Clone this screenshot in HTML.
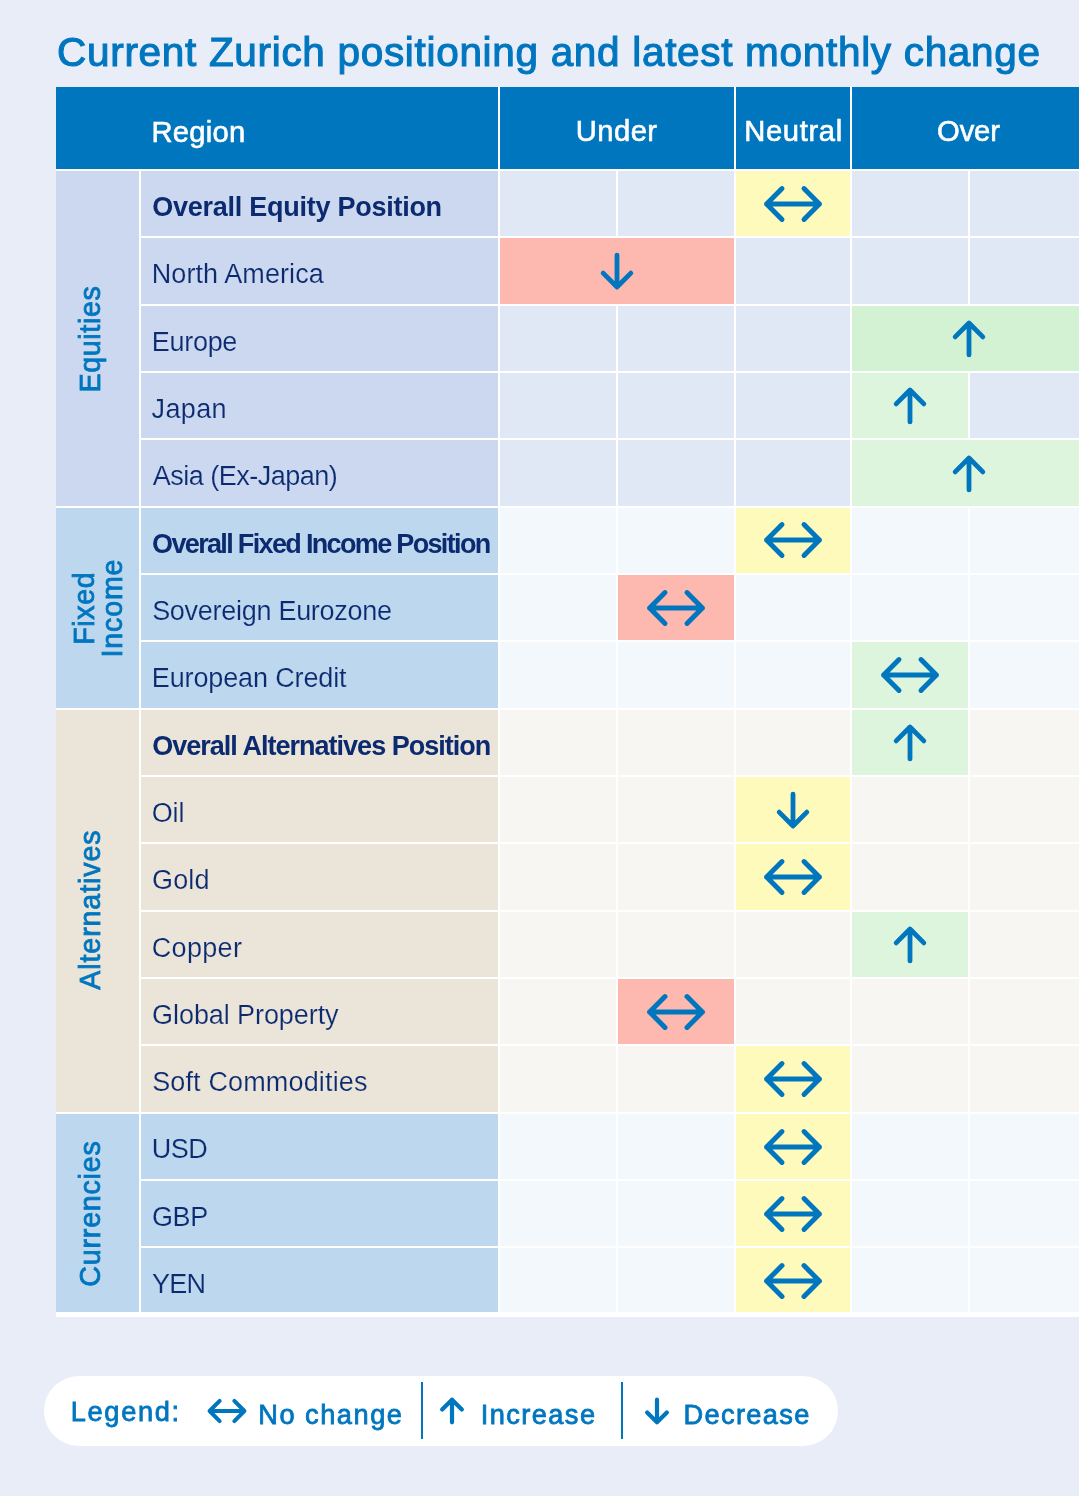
<!DOCTYPE html>
<html lang="en">
<head>
<meta charset="utf-8">
<title>Current Zurich positioning and latest monthly change</title>
<style>
html,body{margin:0;padding:0}
body{width:1079px;height:1496px;overflow:hidden;background:#E9EDF8;font-family:"Liberation Sans",Arial,Helvetica,sans-serif}
#page{position:relative;width:1079px;height:1496px;overflow:hidden;background:#E9EDF8;filter:blur(.35px)}
.b,.t,.ic,.r{position:absolute;display:block;margin:0;padding:0}
.t,.r{white-space:nowrap;line-height:1;font-weight:400;z-index:2}
.t{color:#0B2A6F;font-size:27px}
.r{color:#0076BF;font-size:28.6px;transform-origin:0 0;transform:rotate(-90deg);-webkit-text-stroke:0.8px #0076BF}
.title{color:#0076BF;font-size:40.5px;-webkit-text-stroke:1.1px #0076BF}
.th{color:#fff;font-size:29.2px;-webkit-text-stroke:0.6px #fff}
.bold{font-weight:700}
.lg{color:#0076BF;font-size:27.2px;-webkit-text-stroke:0.8px #0076BF}
.table{background:#fff}
.hd{background:#0076BF}
.ic{overflow:visible;z-index:2}
.ic path{fill:none;stroke:#0076BF;stroke-linecap:round;stroke-linejoin:round}
.legend{background:#fff;border-radius:35px}
.sep{background:#0076BF}
.yel{background:#FEFABC}
.red{background:#FDB8B0}
.gr1{background:#DCF5DC}
.gr2{background:#D3F2D3}
.eq-l{background:#CBD8EF}
.eq-d{background:#E1E8F5}
.eq-t{-webkit-text-stroke:0.2px #CBD8EF}
.fi-l{background:#BDD7EE}
.fi-d{background:#F3F8FC}
.fi-t{-webkit-text-stroke:0.2px #BDD7EE}
.al-l{background:#EAE4D9}
.al-d{background:#F7F6F3}
.al-t{-webkit-text-stroke:0.2px #EAE4D9}
.cu-l{background:#BDD7EE}
.cu-d{background:#F3F8FC}
.cu-t{-webkit-text-stroke:0.2px #BDD7EE}
</style>
</head>
<body>
<div id="page">
<span id="title" class="t title" style="left:57.07px;top:32px;letter-spacing:0.69px">Current Zurich positioning and latest monthly change</span>
<div class="b table" style="left:56px;top:87px;width:1023px;height:1230px">
<!-- header -->
<div class="b hd" style="left:0px;top:0px;width:442px;height:82px"><span id="h_region" class="t th" style="left:95.44px;top:31px;letter-spacing:0.24px">Region</span></div>
<div class="b hd" style="left:444px;top:0px;width:234px;height:82px"><span id="h_under" class="t th" style="left:75.68px;top:30px;letter-spacing:0.47px">Under</span></div>
<div class="b hd" style="left:680px;top:0px;width:114px;height:82px"><span id="h_neutral" class="t th" style="left:8.23px;top:30px;letter-spacing:0.65px">Neutral</span></div>
<div class="b hd" style="left:796px;top:0px;width:227px;height:82px"><span id="h_over" class="t th" style="left:85.06px;top:30px;letter-spacing:-0.11px">Over</span></div>
<!-- Equities -->
<div class="b cat eq-l" style="left:0px;top:84px;width:83px;height:335px"><span id="cat_eq_0" class="r" style="left:20px;top:221px;letter-spacing:0.65px;transform:translate(0.49px,0.53px) rotate(-90deg)">Equities</span></div>
<div class="b lab eq-l" style="left:85px;top:84px;width:357px;height:65px"><span id="row0" class="t bold" style="left:11.28px;top:23px;letter-spacing:-0.26px">Overall Equity Position</span></div>
<div class="b eq-d" style="left:444px;top:84px;width:116px;height:65px"></div>
<div class="b eq-d" style="left:562px;top:84px;width:116px;height:65px"></div>
<div class="b yel" style="left:680px;top:84px;width:114px;height:65px"><svg class="ic" style="left:24.9px;top:10.75px" width="64" height="44" viewBox="-32 -22 64 44" aria-hidden="true"><path d="M-26.4 0H26.4M-11 -15.4L-26.4 0L-11 15.4M11 -15.4L26.4 0L11 15.4" stroke-width="5"/></svg></div>
<div class="b eq-d" style="left:796px;top:84px;width:116px;height:65px"></div>
<div class="b eq-d" style="left:914px;top:84px;width:109px;height:65px"></div>
<div class="b lab eq-l" style="left:85px;top:151px;width:357px;height:66px"><span id="row1" class="t thin eq-t" style="left:10.77px;top:23px;letter-spacing:0.08px">North America</span></div>
<div class="b red" style="left:444px;top:151px;width:234px;height:66px"><svg class="ic" style="left:84.9px;top:11.09px" width="64" height="44" viewBox="-32 -22 64 44" aria-hidden="true"><path d="M0 -15.95V15.95M-13.85 2.1L0 15.95L13.85 2.1" stroke-width="4.8"/></svg></div>
<div class="b eq-d" style="left:680px;top:151px;width:114px;height:66px"></div>
<div class="b eq-d" style="left:796px;top:151px;width:116px;height:66px"></div>
<div class="b eq-d" style="left:914px;top:151px;width:109px;height:66px"></div>
<div class="b lab eq-l" style="left:85px;top:219px;width:357px;height:65px"><span id="row2" class="t thin eq-t" style="left:10.77px;top:23px;letter-spacing:-0.29px">Europe</span></div>
<div class="b eq-d" style="left:444px;top:219px;width:116px;height:65px"></div>
<div class="b eq-d" style="left:562px;top:219px;width:116px;height:65px"></div>
<div class="b eq-d" style="left:680px;top:219px;width:114px;height:65px"></div>
<div class="b gr2" style="left:796px;top:219px;width:227px;height:65px"><svg class="ic" style="left:84.9px;top:10.83px" width="64" height="44" viewBox="-32 -22 64 44" aria-hidden="true"><path d="M0 15.95V-15.95M-13.85 -2.1L0 -15.95L13.85 -2.1" stroke-width="4.8"/></svg></div>
<div class="b lab eq-l" style="left:85px;top:286px;width:357px;height:65px"><span id="row3" class="t thin eq-t" style="left:10.61px;top:23px;letter-spacing:0.33px">Japan</span></div>
<div class="b eq-d" style="left:444px;top:286px;width:116px;height:65px"></div>
<div class="b eq-d" style="left:562px;top:286px;width:116px;height:65px"></div>
<div class="b eq-d" style="left:680px;top:286px;width:114px;height:65px"></div>
<div class="b gr1" style="left:796px;top:286px;width:116px;height:65px"><svg class="ic" style="left:25.9px;top:11.17px" width="64" height="44" viewBox="-32 -22 64 44" aria-hidden="true"><path d="M0 15.95V-15.95M-13.85 -2.1L0 -15.95L13.85 -2.1" stroke-width="4.8"/></svg></div>
<div class="b eq-d" style="left:914px;top:286px;width:109px;height:65px"></div>
<div class="b lab eq-l" style="left:85px;top:353px;width:357px;height:66px"><span id="row4" class="t thin eq-t" style="left:11.87px;top:23px;letter-spacing:-0.51px">Asia (Ex-Japan)</span></div>
<div class="b eq-d" style="left:444px;top:353px;width:116px;height:66px"></div>
<div class="b eq-d" style="left:562px;top:353px;width:116px;height:66px"></div>
<div class="b eq-d" style="left:680px;top:353px;width:114px;height:66px"></div>
<div class="b gr1" style="left:796px;top:353px;width:227px;height:66px"><svg class="ic" style="left:84.9px;top:11.51px" width="64" height="44" viewBox="-32 -22 64 44" aria-hidden="true"><path d="M0 15.95V-15.95M-13.85 -2.1L0 -15.95L13.85 -2.1" stroke-width="4.8"/></svg></div>
<!-- Fixed Income -->
<div class="b cat fi-l" style="left:0px;top:421px;width:83px;height:200px"><span id="cat_fi_0" class="r" style="left:13px;top:136px;letter-spacing:0.6px;transform:translate(0.89px,0.71px) rotate(-90deg)">Fixed</span><span id="cat_fi_1" class="r" style="left:42px;top:149px;letter-spacing:0.83px;transform:translate(0.39px,0.42px) rotate(-90deg)">Income</span></div>
<div class="b lab fi-l" style="left:85px;top:421px;width:357px;height:65px"><span id="row5" class="t bold" style="left:11.08px;top:23px;letter-spacing:-1.66px">Overall Fixed Income Position</span></div>
<div class="b fi-d" style="left:444px;top:421px;width:116px;height:65px"></div>
<div class="b fi-d" style="left:562px;top:421px;width:116px;height:65px"></div>
<div class="b yel" style="left:680px;top:421px;width:114px;height:65px"><svg class="ic" style="left:24.9px;top:10.45px" width="64" height="44" viewBox="-32 -22 64 44" aria-hidden="true"><path d="M-26.4 0H26.4M-11 -15.4L-26.4 0L-11 15.4M11 -15.4L26.4 0L11 15.4" stroke-width="5"/></svg></div>
<div class="b fi-d" style="left:796px;top:421px;width:116px;height:65px"></div>
<div class="b fi-d" style="left:914px;top:421px;width:109px;height:65px"></div>
<div class="b lab fi-l" style="left:85px;top:488px;width:357px;height:65px"><span id="row6" class="t thin fi-t" style="left:11.14px;top:23px;letter-spacing:-0.28px">Sovereign Eurozone</span></div>
<div class="b fi-d" style="left:444px;top:488px;width:116px;height:65px"></div>
<div class="b red" style="left:562px;top:488px;width:116px;height:65px"><svg class="ic" style="left:25.9px;top:10.79px" width="64" height="44" viewBox="-32 -22 64 44" aria-hidden="true"><path d="M-26.4 0H26.4M-11 -15.4L-26.4 0L-11 15.4M11 -15.4L26.4 0L11 15.4" stroke-width="5"/></svg></div>
<div class="b fi-d" style="left:680px;top:488px;width:114px;height:65px"></div>
<div class="b fi-d" style="left:796px;top:488px;width:116px;height:65px"></div>
<div class="b fi-d" style="left:914px;top:488px;width:109px;height:65px"></div>
<div class="b lab fi-l" style="left:85px;top:555px;width:357px;height:66px"><span id="row7" class="t thin fi-t" style="left:10.77px;top:23px;letter-spacing:-0.13px">European Credit</span></div>
<div class="b fi-d" style="left:444px;top:555px;width:116px;height:66px"></div>
<div class="b fi-d" style="left:562px;top:555px;width:116px;height:66px"></div>
<div class="b fi-d" style="left:680px;top:555px;width:114px;height:66px"></div>
<div class="b gr1" style="left:796px;top:555px;width:116px;height:66px"><svg class="ic" style="left:25.9px;top:11.13px" width="64" height="44" viewBox="-32 -22 64 44" aria-hidden="true"><path d="M-26.4 0H26.4M-11 -15.4L-26.4 0L-11 15.4M11 -15.4L26.4 0L11 15.4" stroke-width="5"/></svg></div>
<div class="b fi-d" style="left:914px;top:555px;width:109px;height:66px"></div>
<!-- Alternatives -->
<div class="b cat al-l" style="left:0px;top:623px;width:83px;height:402px"><span id="cat_al_0" class="r" style="left:20px;top:279px;letter-spacing:0.89px;transform:translate(0.49px,0.67px) rotate(-90deg)">Alternatives</span></div>
<div class="b lab al-l" style="left:85px;top:623px;width:357px;height:65px"><span id="row8" class="t bold" style="left:11.16px;top:23px;letter-spacing:-0.98px">Overall Alternatives Position</span></div>
<div class="b al-d" style="left:444px;top:623px;width:116px;height:65px"></div>
<div class="b al-d" style="left:562px;top:623px;width:116px;height:65px"></div>
<div class="b al-d" style="left:680px;top:623px;width:114px;height:65px"></div>
<div class="b gr1" style="left:796px;top:623px;width:116px;height:65px"><svg class="ic" style="left:25.9px;top:10.87px" width="64" height="44" viewBox="-32 -22 64 44" aria-hidden="true"><path d="M0 15.95V-15.95M-13.85 -2.1L0 -15.95L13.85 -2.1" stroke-width="4.8"/></svg></div>
<div class="b al-d" style="left:914px;top:623px;width:109px;height:65px"></div>
<div class="b lab al-l" style="left:85px;top:690px;width:357px;height:65px"><span id="row9" class="t thin al-t" style="left:10.78px;top:23px;letter-spacing:-0.18px">Oil</span></div>
<div class="b al-d" style="left:444px;top:690px;width:116px;height:65px"></div>
<div class="b al-d" style="left:562px;top:690px;width:116px;height:65px"></div>
<div class="b yel" style="left:680px;top:690px;width:114px;height:65px"><svg class="ic" style="left:24.9px;top:10.81px" width="64" height="44" viewBox="-32 -22 64 44" aria-hidden="true"><path d="M0 -15.95V15.95M-13.85 2.1L0 15.95L13.85 2.1" stroke-width="4.8"/></svg></div>
<div class="b al-d" style="left:796px;top:690px;width:116px;height:65px"></div>
<div class="b al-d" style="left:914px;top:690px;width:109px;height:65px"></div>
<div class="b lab al-l" style="left:85px;top:757px;width:357px;height:66px"><span id="row10" class="t thin al-t" style="left:11.12px;top:23px;letter-spacing:0.12px">Gold</span></div>
<div class="b al-d" style="left:444px;top:757px;width:116px;height:66px"></div>
<div class="b al-d" style="left:562px;top:757px;width:116px;height:66px"></div>
<div class="b yel" style="left:680px;top:757px;width:114px;height:66px"><svg class="ic" style="left:24.9px;top:11.15px" width="64" height="44" viewBox="-32 -22 64 44" aria-hidden="true"><path d="M-26.4 0H26.4M-11 -15.4L-26.4 0L-11 15.4M11 -15.4L26.4 0L11 15.4" stroke-width="5"/></svg></div>
<div class="b al-d" style="left:796px;top:757px;width:116px;height:66px"></div>
<div class="b al-d" style="left:914px;top:757px;width:109px;height:66px"></div>
<div class="b lab al-l" style="left:85px;top:825px;width:357px;height:65px"><span id="row11" class="t thin al-t" style="left:10.75px;top:23px;letter-spacing:0.33px">Copper</span></div>
<div class="b al-d" style="left:444px;top:825px;width:116px;height:65px"></div>
<div class="b al-d" style="left:562px;top:825px;width:116px;height:65px"></div>
<div class="b al-d" style="left:680px;top:825px;width:114px;height:65px"></div>
<div class="b gr1" style="left:796px;top:825px;width:116px;height:65px"><svg class="ic" style="left:25.9px;top:10.89px" width="64" height="44" viewBox="-32 -22 64 44" aria-hidden="true"><path d="M0 15.95V-15.95M-13.85 -2.1L0 -15.95L13.85 -2.1" stroke-width="4.8"/></svg></div>
<div class="b al-d" style="left:914px;top:825px;width:109px;height:65px"></div>
<div class="b lab al-l" style="left:85px;top:892px;width:357px;height:65px"><span id="row12" class="t thin al-t" style="left:11.12px;top:23px;letter-spacing:-0.08px">Global Property</span></div>
<div class="b al-d" style="left:444px;top:892px;width:116px;height:65px"></div>
<div class="b red" style="left:562px;top:892px;width:116px;height:65px"><svg class="ic" style="left:25.9px;top:10.83px" width="64" height="44" viewBox="-32 -22 64 44" aria-hidden="true"><path d="M-26.4 0H26.4M-11 -15.4L-26.4 0L-11 15.4M11 -15.4L26.4 0L11 15.4" stroke-width="5"/></svg></div>
<div class="b al-d" style="left:680px;top:892px;width:114px;height:65px"></div>
<div class="b al-d" style="left:796px;top:892px;width:116px;height:65px"></div>
<div class="b al-d" style="left:914px;top:892px;width:109px;height:65px"></div>
<div class="b lab al-l" style="left:85px;top:959px;width:357px;height:66px"><span id="row13" class="t thin al-t" style="left:11.14px;top:23px;letter-spacing:0.15px">Soft Commodities</span></div>
<div class="b al-d" style="left:444px;top:959px;width:116px;height:66px"></div>
<div class="b al-d" style="left:562px;top:959px;width:116px;height:66px"></div>
<div class="b yel" style="left:680px;top:959px;width:114px;height:66px"><svg class="ic" style="left:24.9px;top:11.17px" width="64" height="44" viewBox="-32 -22 64 44" aria-hidden="true"><path d="M-26.4 0H26.4M-11 -15.4L-26.4 0L-11 15.4M11 -15.4L26.4 0L11 15.4" stroke-width="5"/></svg></div>
<div class="b al-d" style="left:796px;top:959px;width:116px;height:66px"></div>
<div class="b al-d" style="left:914px;top:959px;width:109px;height:66px"></div>
<!-- Currencies -->
<div class="b cat cu-l" style="left:0px;top:1027px;width:83px;height:198px"><span id="cat_cu_0" class="r" style="left:20px;top:172px;letter-spacing:0.79px;transform:translate(0.49px,0.63px) rotate(-90deg)">Currencies</span></div>
<div class="b lab cu-l" style="left:85px;top:1027px;width:357px;height:65px"><span id="row14" class="t thin cu-t" style="left:10.76px;top:22px;letter-spacing:-0.54px">USD</span></div>
<div class="b cu-d" style="left:444px;top:1027px;width:116px;height:65px"></div>
<div class="b cu-d" style="left:562px;top:1027px;width:116px;height:65px"></div>
<div class="b yel" style="left:680px;top:1027px;width:114px;height:65px"><svg class="ic" style="left:24.9px;top:10.51px" width="64" height="44" viewBox="-32 -22 64 44" aria-hidden="true"><path d="M-26.4 0H26.4M-11 -15.4L-26.4 0L-11 15.4M11 -15.4L26.4 0L11 15.4" stroke-width="5"/></svg></div>
<div class="b cu-d" style="left:796px;top:1027px;width:116px;height:65px"></div>
<div class="b cu-d" style="left:914px;top:1027px;width:109px;height:65px"></div>
<div class="b lab cu-l" style="left:85px;top:1094px;width:357px;height:65px"><span id="row15" class="t thin cu-t" style="left:11.12px;top:23px;letter-spacing:-0.49px">GBP</span></div>
<div class="b cu-d" style="left:444px;top:1094px;width:116px;height:65px"></div>
<div class="b cu-d" style="left:562px;top:1094px;width:116px;height:65px"></div>
<div class="b yel" style="left:680px;top:1094px;width:114px;height:65px"><svg class="ic" style="left:24.9px;top:10.85px" width="64" height="44" viewBox="-32 -22 64 44" aria-hidden="true"><path d="M-26.4 0H26.4M-11 -15.4L-26.4 0L-11 15.4M11 -15.4L26.4 0L11 15.4" stroke-width="5"/></svg></div>
<div class="b cu-d" style="left:796px;top:1094px;width:116px;height:65px"></div>
<div class="b cu-d" style="left:914px;top:1094px;width:109px;height:65px"></div>
<div class="b lab cu-l" style="left:85px;top:1161px;width:357px;height:64px"><span id="row16" class="t thin cu-t" style="left:10.94px;top:23px;letter-spacing:-0.71px">YEN</span></div>
<div class="b cu-d" style="left:444px;top:1161px;width:116px;height:64px"></div>
<div class="b cu-d" style="left:562px;top:1161px;width:116px;height:64px"></div>
<div class="b yel" style="left:680px;top:1161px;width:114px;height:64px"><svg class="ic" style="left:24.9px;top:11.19px" width="64" height="44" viewBox="-32 -22 64 44" aria-hidden="true"><path d="M-26.4 0H26.4M-11 -15.4L-26.4 0L-11 15.4M11 -15.4L26.4 0L11 15.4" stroke-width="5"/></svg></div>
<div class="b cu-d" style="left:796px;top:1161px;width:116px;height:64px"></div>
<div class="b cu-d" style="left:914px;top:1161px;width:109px;height:64px"></div>
</div>
<!-- legend -->
<div class="b legend" style="left:44px;top:1376px;width:794px;height:70px">
<span id="lg0" class="t lg" style="left:26.69px;top:22px;letter-spacing:1.7px">Legend:</span>
<svg class="ic" style="left:150.7px;top:13px" width="64" height="44" viewBox="-32 -22 64 44" aria-hidden="true"><path d="M-17.4 0H17.4M-7.35 -10.05L-17.4 0L-7.35 10.05M7.35 -10.05L17.4 0L7.35 10.05" stroke-width="4"/></svg>
<span id="lg1" class="t lg" style="left:214.24px;top:25px;letter-spacing:1.52px">No change</span>
<div class="b sep" style="left:377px;top:6px;width:2px;height:57px"></div>
<svg class="ic" style="left:375.5px;top:12.6px" width="64" height="44" viewBox="-32 -22 64 44" aria-hidden="true"><path d="M0 11.3V-11.3M-9.85 -1.45L0 -11.3L9.85 -1.45" stroke-width="4.2"/></svg>
<span id="lg2" class="t lg" style="left:436.73px;top:25px;letter-spacing:1.43px">Increase</span>
<div class="b sep" style="left:577px;top:6px;width:2px;height:57px"></div>
<svg class="ic" style="left:580.6px;top:13.1px" width="64" height="44" viewBox="-32 -22 64 44" aria-hidden="true"><path d="M0 -11.3V11.3M-9.85 1.45L0 11.3L9.85 1.45" stroke-width="4.2"/></svg>
<span id="lg3" class="t lg" style="left:639.45px;top:25px;letter-spacing:1.37px">Decrease</span>
</div>
</div>
</body>
</html>
